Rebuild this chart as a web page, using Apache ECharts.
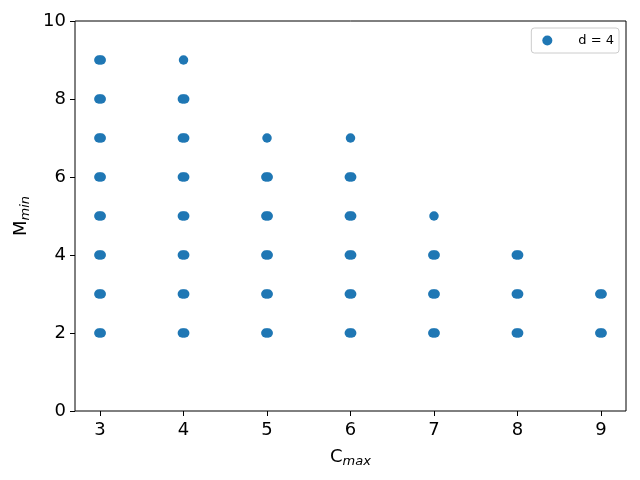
<!DOCTYPE html>
<html><head><meta charset="utf-8">
<script src="https://cdn.jsdelivr.net/npm/echarts@6/dist/echarts.min.js"></script>
<style>html,body{margin:0;padding:0;background:#fff}#c{width:640px;height:480px}</style>
</head><body><div id="c"></div>
<script>
// Column C_max values and the M_min values seen in each column
var cmaxValues = [3, 4, 5, 6, 7, 8, 9];
var mminByCmax = [
  [2, 3, 4, 5, 6, 7, 8, 9],
  [2, 3, 4, 5, 6, 7, 8, 9],
  [2, 3, 4, 5, 6, 7],
  [2, 3, 4, 5, 6, 7],
  [2, 3, 4, 5],
  [2, 3, 4],
  [2, 3]
];
// Markers that look widened (several overlapping points, slightly apart in x)
var singleTop = [false, true, true, true, true, false, false]; // top marker of column is a single point
var spread = [-0.014, 0.014];
var xTicks = [3, 4, 5, 6, 7, 8, 9];
var yTicks = [0, 2, 4, 6, 8, 10];

var pts = [];
cmaxValues.forEach(function (c, i) {
  var col = mminByCmax[i];
  col.forEach(function (m, j) {
    if (j === col.length - 1 && singleTop[i]) {
      pts.push([c, m]);
    } else {
      spread.forEach(function (d) { pts.push([c + d, m]); });
    }
  });
});

var font = 'DejaVu Sans';
var subStyle = { fontSize: 13, fontStyle: 'italic', fontFamily: font, color: '#000', verticalAlign: 'bottom', padding: [0, 0, -2, 0] };
var chart = echarts.init(document.getElementById('c'));
chart.setOption({
  animation: false,
  backgroundColor: '#fff',
  textStyle: { fontFamily: font },
  grid: { left: 75, right: 14, top: 21, bottom: 69, show: true, borderColor: '#000', borderWidth: 1,
    containLabel: false, outerBoundsMode: 'none' },
  legend: {
    data: ['d = 4'], right: 21, top: 28, orient: 'vertical',
    backgroundColor: '#fff', borderColor: '#ccc', borderWidth: 1, borderRadius: 3,
    padding: [6, 5, 6, 11], icon: 'circle', itemWidth: 10, itemHeight: 10, itemGap: 10,
    textStyle: { fontSize: 13, color: '#000', fontFamily: font, padding: [0, 0, 0, 21] }
  },
  xAxis: {
    type: 'value', min: 2.7, max: 9.3,
    name: 'C{s|max}', nameLocation: 'middle', nameGap: 37,
    nameTextStyle: { fontSize: 18, color: '#000', fontFamily: font, rich: { s: subStyle } },
    axisLine: { show: false },
    splitLine: { show: false },
    axisTick: { show: true, length: 5, lineStyle: { color: '#000' }, customValues: xTicks },
    axisLabel: { fontSize: 18, color: '#000', margin: 10, customValues: xTicks, fontFamily: font }
  },
  yAxis: {
    type: 'value', min: 0, max: 10, interval: 2,
    name: 'M{s|min}', nameLocation: 'middle', nameGap: 45, nameRotate: 90,
    nameTextStyle: { fontSize: 18, color: '#000', fontFamily: font, rich: { s: subStyle } },
    axisLine: { show: false },
    splitLine: { show: false },
    axisTick: { show: true, length: 5, lineStyle: { color: '#000' } },
    axisLabel: { fontSize: 18, color: '#000', margin: 9, fontFamily: font }
  },
  series: [{
    name: 'd = 4', type: 'scatter', data: pts, symbolSize: 9.5,
    itemStyle: { color: '#1f77b4', opacity: 1 }
  }]
});
</script></body></html>
